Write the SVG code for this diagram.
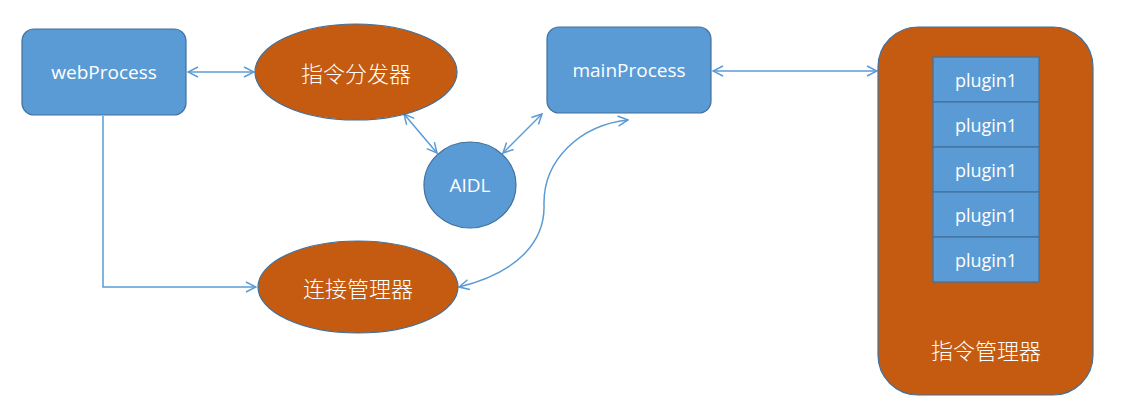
<svg xmlns="http://www.w3.org/2000/svg" width="1132" height="408" viewBox="0 0 1132 408">
<style>
.box{fill:#5B9BD5;stroke:#41719C;stroke-width:1.2}
.org{fill:#C55A11;stroke:#41719C;stroke-width:1.2}
.cell{fill:#5B9BD5;stroke:#41719C;stroke-width:1.2}
.t{font-family:"Open Sans","Noto Sans",sans-serif;fill:#fff;text-anchor:middle;dominant-baseline:central}
.cn{font-family:"Noto Sans CJK SC","Noto Sans",sans-serif;fill:#fff;text-anchor:middle;dominant-baseline:central;font-size:22px;font-weight:300}
.c{fill:none;stroke:#5B9BD5;stroke-width:1.5}
</style>
<defs>
<marker id="ah" viewBox="0 0 12 12" refX="11" refY="6" markerWidth="12" markerHeight="12" markerUnits="userSpaceOnUse" orient="auto-start-reverse">
<path d="M1,1 L11,6 L1,11" fill="none" stroke="#5B9BD5" stroke-width="1.5"/>
</marker>
</defs>
<rect width="1132" height="408" fill="#fff"/>
<g id="connectors">
<line class="c" x1="188" y1="72" x2="254" y2="72" marker-start="url(#ah)" marker-end="url(#ah)"/>
<line class="c" x1="713" y1="71" x2="877" y2="71" marker-start="url(#ah)" marker-end="url(#ah)"/>
<line class="c" x1="404" y1="114" x2="437" y2="153" marker-start="url(#ah)" marker-end="url(#ah)"/>
<line class="c" x1="503" y1="153" x2="542" y2="114" marker-start="url(#ah)" marker-end="url(#ah)"/>
<polyline class="c" points="103,116 103,287 256,287" marker-end="url(#ah)"/>
<path class="c" d="M459,287 C520,272 545,240 544,205 C543,160 580,125 628,120" marker-start="url(#ah)" marker-end="url(#ah)"/>
</g>
<g id="webProcess">
<rect class="box" x="22" y="29" width="164" height="86" rx="12"/>
<text class="t" x="104" y="72" font-size="19">webProcess</text>
</g>
<g id="dispatcher">
<ellipse class="org" cx="356" cy="72" rx="101" ry="48"/>
<text class="cn" x="356" y="72">指令分发器</text>
</g>
<g id="mainProcess">
<rect class="box" x="547" y="27" width="164" height="86" rx="12"/>
<text class="t" x="629" y="70" font-size="19">mainProcess</text>
</g>
<g id="aidl">
<ellipse class="box" cx="470" cy="185" rx="46" ry="43"/>
<text class="t" x="470" y="185" font-size="19">AIDL</text>
</g>
<g id="connManager">
<ellipse class="org" cx="358" cy="287" rx="100" ry="46"/>
<text class="cn" x="358" y="287">连接管理器</text>
</g>
<g id="cmdManager">
<rect class="org" x="878" y="27" width="215" height="368" rx="40"/>
<rect class="cell" x="933" y="57" width="106" height="45"/>
<rect class="cell" x="933" y="102" width="106" height="45"/>
<rect class="cell" x="933" y="147" width="106" height="45"/>
<rect class="cell" x="933" y="192" width="106" height="45"/>
<rect class="cell" x="933" y="237" width="106" height="45"/>
<text class="t" x="986" y="80" font-size="18">plugin1</text>
<text class="t" x="986" y="125" font-size="18">plugin1</text>
<text class="t" x="986" y="170" font-size="18">plugin1</text>
<text class="t" x="986" y="215" font-size="18">plugin1</text>
<text class="t" x="986" y="260" font-size="18">plugin1</text>
<text class="cn" x="986" y="349">指令管理器</text>
</g>
</svg>
